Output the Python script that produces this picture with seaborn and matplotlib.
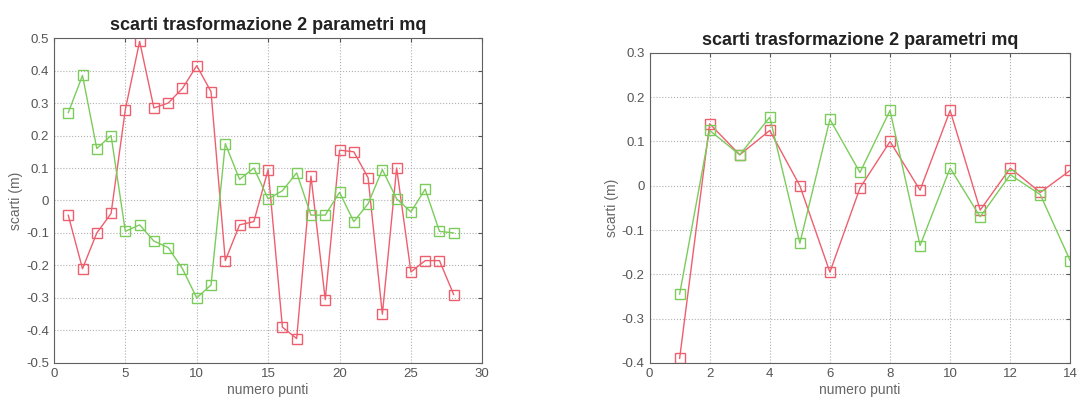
import numpy as np
import pandas as pd
import seaborn as sns
import matplotlib
matplotlib.use("Agg")
import matplotlib.pyplot as plt
from matplotlib.ticker import FuncFormatter


# Left panel: 28 points
left_punti = list(range(1, 29))
left_rosso = [-0.045, -0.21, -0.10, -0.04, 0.28, 0.49, 0.285, 0.30, 0.345, 0.415,
              0.335, -0.185, -0.075, -0.065, 0.095, -0.39, -0.425, 0.075, -0.305, 0.155,
              0.15, 0.07, -0.35, 0.10, -0.22, -0.185, -0.185, -0.29]
left_verde = [0.27, 0.385, 0.16, 0.20, -0.095, -0.075, -0.125, -0.145, -0.21, -0.30,
              -0.26, 0.175, 0.065, 0.10, 0.005, 0.03, 0.085, -0.045, -0.045, 0.025,
              -0.065, -0.01, 0.095, 0.005, -0.035, 0.035, -0.095, -0.10]

# Right panel: 14 points
right_punti = list(range(1, 15))
right_rosso = [-0.39, 0.14, 0.07, 0.125, 0.0, -0.195, -0.005, 0.10, -0.01, 0.17,
               -0.055, 0.04, -0.015, 0.035]
right_verde = [-0.245, 0.125, 0.07, 0.155, -0.13, 0.15, 0.03, 0.17, -0.135, 0.04,
               -0.07, 0.025, -0.02, -0.17]

titolo = "scarti trasformazione 2 parametri mq"
RED = "#ee5f6e"
GREEN = "#7ccc5c"

sns.set_style("white")
plt.rcParams['font.family'] = ['Liberation Sans', 'DejaVu Sans']


def matlab_fmt(v, pos):
    # Matlab-like tick labels: 0.5, 0, -0.1 (no "-0")
    v = round(v, 6)
    if v == 0:
        return "0"
    return f"{v:g}"


def draw_panel(ax, x, rosso, verde, xlim, xticks, ylim, yticks):

    """
        Draw one panel with the two residual series, Matlab style
    """

    for vals, col in [(rosso, RED), (verde, GREEN)]:
        sns.lineplot(x=x, y=vals, ax=ax, color=col, linewidth=1.0,
                     marker='s', markersize=7, markerfacecolor='none',
                     markeredgecolor=col, markeredgewidth=1.0)

    ax.set_xlim(*xlim)
    ax.set_ylim(*ylim)
    ax.set_xticks(xticks)
    ax.set_yticks(yticks)
    ax.yaxis.set_major_formatter(FuncFormatter(matlab_fmt))

    # dotted grid like the original
    ax.grid(True, linestyle=':', color='#b0b0b0', linewidth=0.8)
    ax.set_axisbelow(True)

    for s in ax.spines.values():
        s.set_color('#606060')
        s.set_linewidth(0.8)
    ax.tick_params(direction='in', length=3, colors='#555555', labelsize=9.5,
                   top=True, right=True)

    ax.set_title(titolo, fontsize=13, fontweight='bold', color='#222222', pad=6)
    ax.set_xlabel("numero punti", fontsize=10, color='#666666', labelpad=2)
    ax.set_ylabel("scarti (m)", fontsize=10, color='#666666', labelpad=2)


fig = plt.figure(figsize=(10.79, 4.01), dpi=100)
ax1 = fig.add_axes([0.050, 0.095, 0.397, 0.810])
ax2 = fig.add_axes([0.602, 0.095, 0.390, 0.773])

draw_panel(ax1, left_punti, left_rosso, left_verde, (0, 30), np.arange(0, 31, 5),
           (-0.5, 0.5), np.round(np.arange(-0.5, 0.51, 0.1), 1))
draw_panel(ax2, right_punti, right_rosso, right_verde, (0, 14), np.arange(0, 15, 2),
           (-0.4, 0.3), np.round(np.arange(-0.4, 0.31, 0.1), 1))

fig.savefig("out.png", dpi=100)
